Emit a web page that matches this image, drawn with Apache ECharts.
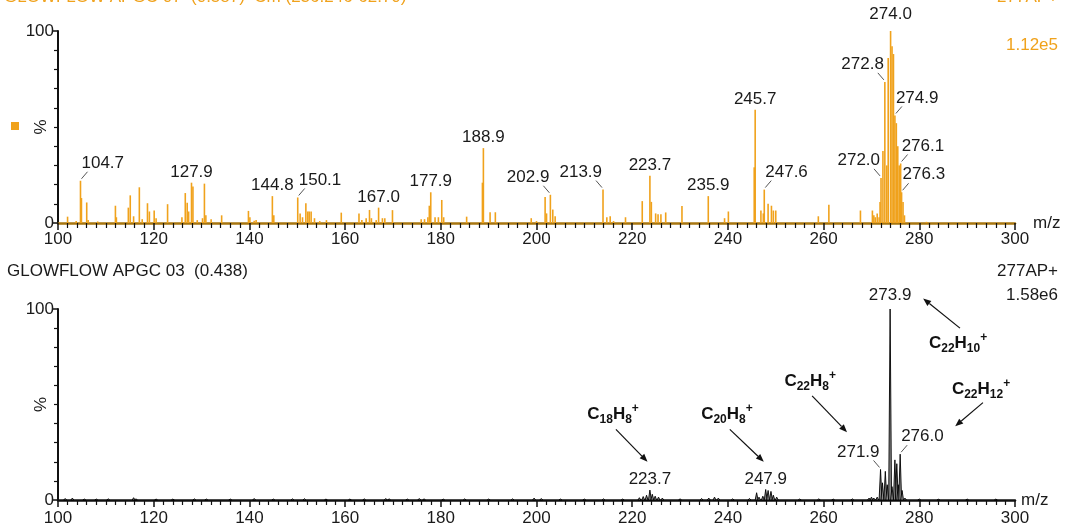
<!DOCTYPE html>
<html>
<head>
<meta charset="utf-8">
<script src="https://cdn.jsdelivr.net/npm/echarts@6/dist/echarts.min.js"></script>
<style>
  html, body { margin: 0; padding: 0; background: #fff; }
  #chart { width: 1067px; height: 529px; }
</style>
</head>
<body>
<div id="chart"></div>
<script>
// ---- spectrum data: [m/z, relative intensity %] ----
const topPeaks = [
  [102.0, 3.3], [103.8, 1.0], [104.7, 22], [104.9, 13], [106.0, 10.7], [106.3, 1.5], [108.3, 0.8],
  [112.0, 9], [112.2, 3], [114.7, 8], [115.1, 14.4], [115.8, 3.5], [117.0, 18.6], [117.6, 2],
  [118.7, 10.3], [119.1, 6], [120.1, 6.5], [120.5, 2.5], [122.9, 9.8],
  [125.9, 3], [126.6, 15.6], [127.0, 10.5], [127.3, 6], [127.9, 21], [128.2, 19], [129.1, 1.5],
  [130.2, 2.5], [130.6, 20.5], [130.9, 4], [132.0, 2], [134.2, 4],
  [139.8, 6.3], [140.1, 3], [141.0, 1.2], [141.4, 1.5], [144.8, 14], [145.1, 4],
  [150.1, 13.3], [150.6, 5], [151.1, 3], [151.8, 10.3], [152.2, 6], [152.5, 6], [152.9, 6],
  [153.6, 2.5], [154.7, 1], [156.1, 1.5], [159.2, 5.4],
  [162.9, 5], [163.5, 1.5], [164.4, 2.5], [165.1, 6.8], [165.5, 2.5], [166.5, 1.5], [167.0, 8],
  [167.8, 2.5], [168.3, 2.5], [169.9, 6.7],
  [175.9, 2], [176.6, 2], [177.3, 3], [177.6, 9], [177.9, 16], [178.8, 3], [179.5, 3],
  [180.2, 12], [180.6, 3], [185.4, 3.3],
  [188.7, 21], [188.9, 39], [190.3, 5.6], [191.4, 5.6], [198.9, 2.5], [200.0, 1],
  [201.8, 13.5], [202.1, 5], [202.9, 14.7], [203.4, 7], [203.9, 3.5],
  [213.9, 17.4], [214.7, 3], [215.4, 3.5], [216.1, 1], [218.6, 3],
  [222.1, 11.4], [223.7, 24.6], [224.0, 11], [224.9, 5], [225.4, 4.5], [226.0, 4.5], [227.0, 5.5], [230.4, 8.8],
  [235.9, 14], [239.3, 2.5], [240.1, 6],
  [245.5, 29], [245.7, 59], [246.9, 6.5], [247.4, 5], [247.6, 17.4], [248.4, 10], [249.1, 9],
  [249.5, 6.5], [250.0, 6.5],
  [258.9, 3.5], [261.1, 9.5], [267.7, 6.5],
  [270.2, 6.5], [270.5, 4], [270.8, 3], [271.2, 5], [271.6, 3], [271.8, 11], [272.0, 23.5],
  [272.4, 37.5], [272.8, 73.5], [273.2, 30], [273.5, 86], [274.0, 100], [274.3, 92], [274.6, 88],
  [274.9, 56], [275.2, 52], [275.5, 40], [275.8, 30], [276.1, 31], [276.3, 16], [276.6, 11],
  [276.9, 4], [281.5, 0.6]
];
const topLabels = ['104.7', '127.9', '144.8', '150.1', '167.0', '177.9', '188.9', '202.9', '213.9',
  '223.7', '235.9', '245.7', '247.6', '272.0', '272.8', '274.0', '274.9', '276.1', '276.3'];

const bottomPeaks = [
  [101.5, 0.8], [103.0, 1.0], [105.5, 0.5], [108.0, 0.5], [110.5, 0.6], [115.8, 1.2], [116.3, 0.6],
  [120.5, 0.5], [124.0, 0.5], [128.5, 0.6], [131.0, 0.5], [136.0, 0.5], [141.0, 0.8], [145.0, 0.5],
  [149.0, 0.6], [151.5, 0.7], [156.0, 0.5], [161.0, 0.5], [164.0, 0.6], [168.5, 0.8], [169.2, 0.6],
  [173.0, 0.5], [175.5, 0.8], [176.5, 0.6], [180.5, 0.5], [185.0, 0.6], [190.0, 0.5], [195.0, 0.6],
  [199.5, 1.0], [201.0, 0.8], [205.0, 0.5], [210.0, 0.5], [214.0, 0.6], [218.0, 0.5],
  [221.5, 1.2], [222.3, 1.8], [223.0, 2.5], [223.7, 5.2], [224.2, 3], [224.8, 2], [225.5, 1.5], [226.3, 1],
  [230.0, 0.6], [234.5, 0.8], [236.0, 1.0], [237.2, 1.5], [238.0, 1.0], [241.0, 0.6], [244.5, 0.8],
  [246.0, 3.8], [246.5, 1.5], [247.3, 2], [247.9, 5.5], [248.4, 5], [249.0, 4.5], [249.5, 2.5], [250.2, 1.5],
  [255.0, 0.5], [259.0, 0.6], [262.0, 0.5], [266.0, 0.6], [269.5, 1.0], [270.0, 1.5], [270.5, 1.0], [271.2, 1.5],
  [271.9, 16], [272.3, 9], [272.9, 15], [273.3, 8], [273.9, 100], [274.3, 7], [274.9, 21], [275.3, 19],
  [275.6, 8], [276.0, 24], [276.4, 5], [277.0, 1.0],
  [280.0, 0.5], [284.0, 0.4], [290.0, 0.5], [296.0, 0.5]
];
const bottomLabels = ['223.7', '247.9', '271.9', '273.9', '276.0'];

// ion formulas: carbon count, hydrogen count
const ionC = ['18', '20', '22', '22', '22'];
const ionH = ['8', '8', '8', '10', '12'];

// ---- label / annotation layout ----
const FONT = '"Liberation Sans", Arial, sans-serif';
const ORANGE = '#F0A21C';
const leftLeader = new Set(['202.9', '213.9', '272.0', '272.8', '271.9']);
const rightLeader = new Set(['104.7', '150.1', '247.6', '274.9', '276.1', '276.3', '276.0']);
const labelGap = { '274.0': 8, '273.9': 5 };
// [text centre, arrow start, arrow end] in data coordinates of the lower panel
const ionNotes = [
  [[216.0, 45], [216.6, 37], [223.2, 20]],
  [[239.8, 45], [240.4, 37], [247.5, 20]],
  [[257.2, 62], [257.6, 54.5], [264.9, 35.5]],
  [[288.1, 82], [288.5, 90], [280.8, 105.5]],
  [[292.9, 58], [293.3, 51], [287.5, 38.6]]
];

function withIntensity(labels, peaks) {
  return labels.map(function (s) {
    const mz = parseFloat(s);
    const p = peaks.find(function (q) { return Math.abs(q[0] - mz) < 1e-6; });
    return [mz, p[1], s];
  });
}

function stickItem(color, width) {
  return function (params, api) {
    const top = api.coord([api.value(0), api.value(1)]);
    const base = api.coord([api.value(0), 0]);
    return { type: 'line', shape: { x1: top[0], y1: top[1], x2: base[0], y2: base[1] },
      style: { stroke: color, lineWidth: width } };
  };
}

function profileItem(params, api) {
  const mz = api.value(0), v = api.value(1);
  const a = api.coord([mz - 0.3, 0]), b = api.coord([mz, v]), c = api.coord([mz + 0.3, 0]);
  return { type: 'polygon', shape: { points: [a, b, c] },
    style: { fill: '#8a8a8a', stroke: '#000', lineWidth: 0.9 } };
}

function labelItem(data) {
  return function (params, api) {
    const d = data[params.dataIndex];
    const p = api.coord([d[0], d[1]]);
    const txt = d[2];
    const children = [];
    const base = { fontSize: 17, fontFamily: FONT, fill: '#1a1a1a', text: txt };
    if (leftLeader.has(txt) || rightLeader.has(txt)) {
      const s = leftLeader.has(txt) ? -1 : 1;
      children.push({ type: 'line', shape: { x1: p[0] + s, y1: p[1] - 2, x2: p[0] + 7 * s, y2: p[1] - 9 },
        style: { stroke: '#555', lineWidth: 1 } });
      children.push({ type: 'text', x: p[0] + s, y: p[1] - 9,
        style: Object.assign({}, base, { align: s < 0 ? 'right' : 'left', verticalAlign: 'bottom' }) });
    } else {
      const g = labelGap[txt] !== undefined ? labelGap[txt] : 2;
      children.push({ type: 'text', x: p[0], y: p[1] - g,
        style: Object.assign({}, base, { align: 'center', verticalAlign: 'bottom' }) });
    }
    return { type: 'group', children: children };
  };
}

function ionItem(params, api) {
  const i = params.dataIndex;
  const n = ionNotes[i];
  const t = api.coord(n[0]), a = api.coord(n[1]), b = api.coord(n[2]);
  const dx = b[0] - a[0], dy = b[1] - a[1], L = Math.sqrt(dx * dx + dy * dy);
  const ux = dx / L, uy = dy / L, hl = 8, hw = 3.2;
  const bx = b[0] - ux * hl, by = b[1] - uy * hl;
  return { type: 'group', children: [
    { type: 'line', shape: { x1: a[0], y1: a[1], x2: bx, y2: by }, style: { stroke: '#111', lineWidth: 1.2 } },
    { type: 'polygon', shape: { points: [[b[0], b[1]], [bx - uy * hw, by + ux * hw], [bx + uy * hw, by - ux * hw]] },
      style: { fill: '#111' } },
    { type: 'text', x: t[0], y: t[1], style: {
      text: '{b|C}{s|' + ionC[i] + '}{b|H}{s|' + ionH[i] + '}{p|+}',
      align: 'center', verticalAlign: 'middle', fill: '#111',
      rich: {
        b: { fontSize: 17, fontWeight: 'bold', fontFamily: FONT, fill: '#111', lineHeight: 23, verticalAlign: 'middle' },
        s: { fontSize: 12, fontWeight: 'bold', fontFamily: FONT, fill: '#111', lineHeight: 12, verticalAlign: 'bottom' },
        p: { fontSize: 12, fontWeight: 'bold', fontFamily: FONT, fill: '#111', lineHeight: 10, verticalAlign: 'top' }
      } } }
  ] };
}

function xAxis(gridIndex, lineColor, margin) {
  return {
    type: 'value', gridIndex: gridIndex, min: 100, max: 300, interval: 20,
    name: 'm/z', nameLocation: 'end', nameGap: 6,
    nameTextStyle: { fontSize: 17, fontFamily: FONT, color: '#1a1a1a', verticalAlign: 'middle' },
    axisLine: { show: true, onZero: false, lineStyle: { color: lineColor, width: 2.5 } },
    axisTick: { show: true, inside: false, length: 7, lineStyle: { color: '#111', width: 1.5 } },
    minorTick: { show: true, splitNumber: 10, length: 5, lineStyle: { color: '#111', width: 1.2 } },
    axisLabel: { fontSize: 17, fontFamily: FONT, color: '#1a1a1a', margin: margin, showMaxLabel: true, showMinLabel: true },
    splitLine: { show: false }, minorSplitLine: { show: false }
  };
}
function yAxis(gridIndex) {
  return {
    type: 'value', gridIndex: gridIndex, min: 0, max: 100, interval: 100,
    name: '%', nameLocation: 'middle', nameGap: 8, nameRotate: 90, nameMoveOverlap: false,
    nameTextStyle: { fontSize: 17, fontFamily: FONT, color: '#1a1a1a' },
    axisLine: { show: true, lineStyle: { color: '#111', width: 2 } },
    axisTick: { show: true, inside: false, length: 6, lineStyle: { color: '#111', width: 1.5 } },
    minorTick: { show: true, splitNumber: 10, length: 4, lineStyle: { color: '#111', width: 1.2 } },
    axisLabel: { fontSize: 17, fontFamily: FONT, color: '#1a1a1a', margin: 4 },
    splitLine: { show: false }, minorSplitLine: { show: false }
  };
}

const topLabelData = withIntensity(topLabels, topPeaks);
const bottomLabelData = withIntensity(bottomLabels, bottomPeaks);

const chart = echarts.init(document.getElementById('chart'), null, { renderer: 'canvas' });
chart.setOption({
  animation: false,
  backgroundColor: '#fff',
  grid: [
    { left: 58, right: 52, top: 31, height: 192, containLabel: false, outerBoundsMode: 'none' },
    { left: 58, right: 52, top: 309, height: 191, containLabel: false, outerBoundsMode: 'none' }
  ],
  xAxis: [xAxis(0, '#A8760F', 8), xAxis(1, '#111', 10)],
  yAxis: [yAxis(0), yAxis(1)],
  series: [
    { type: 'custom', xAxisIndex: 0, yAxisIndex: 0, silent: true, data: topPeaks,
      renderItem: stickItem(ORANGE, 1.6), encode: { x: 0, y: 1 } },
    { type: 'custom', xAxisIndex: 0, yAxisIndex: 0, silent: true, data: topLabelData.map(function (d) { return [d[0], d[1]]; }),
      renderItem: labelItem(topLabelData), encode: { x: 0, y: 1 }, z: 5 },
    { type: 'custom', xAxisIndex: 1, yAxisIndex: 1, silent: true, data: bottomPeaks,
      renderItem: profileItem, encode: { x: 0, y: 1 } },
    { type: 'custom', xAxisIndex: 1, yAxisIndex: 1, silent: true, data: bottomLabelData.map(function (d) { return [d[0], d[1]]; }),
      renderItem: labelItem(bottomLabelData), encode: { x: 0, y: 1 }, z: 5 },
    { type: 'custom', xAxisIndex: 1, yAxisIndex: 1, silent: true, clip: false,
      data: ionNotes.map(function (n) { return [n[0][0], n[0][1]]; }),
      renderItem: ionItem, encode: { x: 0, y: 1 }, z: 5 }
  ],
  graphic: [
    { type: 'text', left: 4, top: -11, style: { text: 'GLOWFLOW APGC 07  (0.587)  Cm (236:246-62:70)',
      fontSize: 17, fontFamily: FONT, fill: ORANGE } },
    { type: 'text', right: 9, top: -11, style: { text: '277AP+', fontSize: 17, fontFamily: FONT, fill: ORANGE } },
    { type: 'text', right: 9, top: 37, style: { text: '1.12e5', fontSize: 17, fontFamily: FONT, fill: ORANGE } },
    { type: 'rect', left: 11, top: 122, shape: { width: 8, height: 8 }, style: { fill: ORANGE } },
    { type: 'text', left: 7, top: 263, style: { text: 'GLOWFLOW APGC 03  (0.438)', fontSize: 17, fontFamily: FONT, fill: '#1a1a1a' } },
    { type: 'text', right: 9, top: 263, style: { text: '277AP+', fontSize: 17, fontFamily: FONT, fill: '#1a1a1a' } },
    { type: 'text', right: 9, top: 287, style: { text: '1.58e6', fontSize: 17, fontFamily: FONT, fill: '#1a1a1a' } }
  ]
});
</script>
</body>
</html>
